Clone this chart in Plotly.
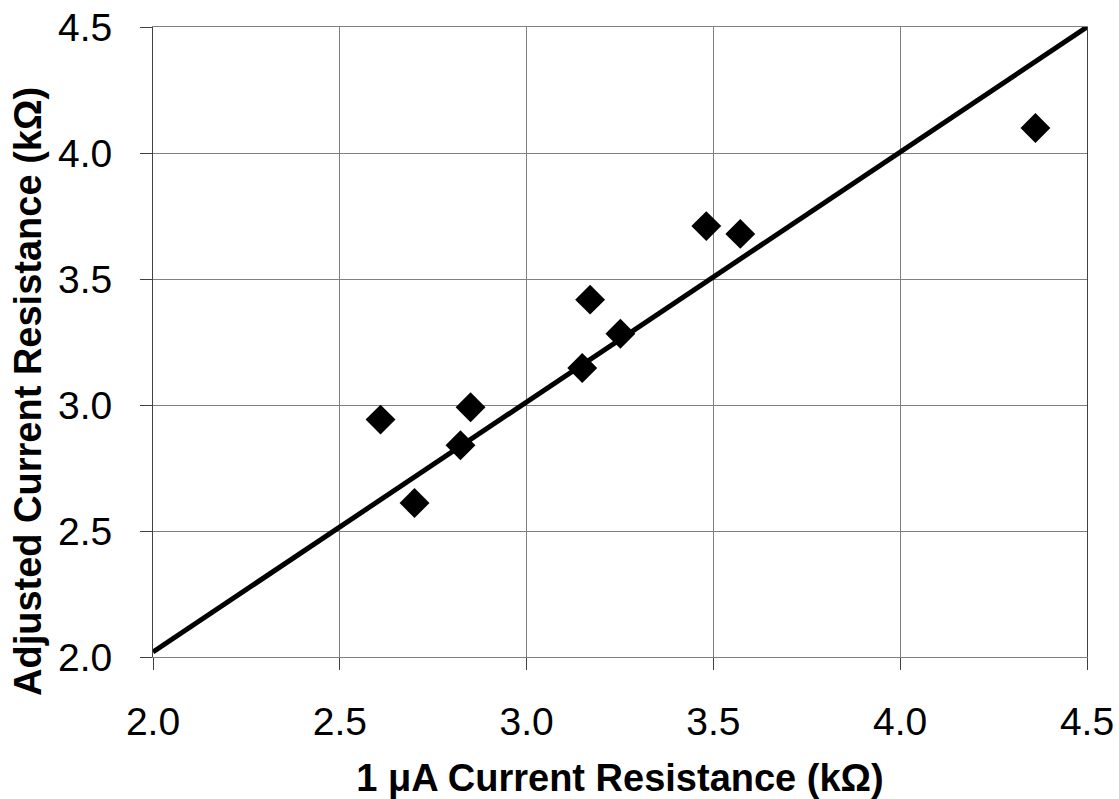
import plotly.graph_objects as go

# Data
x_vals = [2.609, 2.700, 2.823, 2.850, 3.149, 3.170, 3.251, 3.481, 3.572, 4.362]
y_vals = [2.942, 2.611, 2.840, 2.991, 3.147, 3.418, 3.283, 3.710, 3.679, 4.099]

fit_x = [2.0, 4.5]
fit_y = [2.02, 4.5]

tick_vals = [2.0, 2.5, 3.0, 3.5, 4.0, 4.5]
tick_text = ["2.0", "2.5", "3.0", "3.5", "4.0", "4.5"]

x_title = "<b>1 μA Current Resistance (kΩ)</b>"
y_title = "<b>Adjusted Current Resistance (kΩ)</b>"

fig = go.Figure()
fig.add_trace(go.Scatter(x=fit_x, y=fit_y, mode="lines",
                         line=dict(color="black", width=5), showlegend=False,
                         cliponaxis=False))
fig.add_trace(go.Scatter(x=x_vals, y=y_vals, mode="markers",
                         marker=dict(symbol="diamond", size=23, color="black",
                                     line=dict(width=0)),
                         showlegend=False))

font_family = "Liberation Sans, Arial, sans-serif"

fig.update_layout(
    width=1119, height=799,
    margin=dict(l=153, r=32, t=27, b=142),
    paper_bgcolor="white", plot_bgcolor="white",
    font=dict(family=font_family, color="black"),
    xaxis=dict(
        range=[2.0, 4.5], tickvals=tick_vals, ticktext=tick_text,
        automargin=False,
        showgrid=True, gridcolor="#808080", gridwidth=1,
        showline=True, linecolor="#808080", linewidth=1, mirror=True,
        ticks="outside", ticklen=12, tickcolor="#404040", tickwidth=1,
        tickfont=dict(size=39, family=font_family),
        ticklabelstandoff=18,
        zeroline=False,
        title=dict(text=x_title,
                   font=dict(size=38, family=font_family), standoff=22),
    ),
    yaxis=dict(
        range=[2.0, 4.5], tickvals=tick_vals, ticktext=tick_text,
        automargin=False,
        showgrid=True, gridcolor="#808080", gridwidth=1,
        showline=True, linecolor="#404040", linewidth=1, mirror=True,
        ticks="outside", ticklen=12, tickcolor="#404040", tickwidth=1,
        tickfont=dict(size=39, family=font_family),
        ticklabelstandoff=20,
        zeroline=False,
    ),
    annotations=[dict(
        text=y_title, textangle=-90,
        xref="paper", yref="paper",
        x=(28 - 153) / 934, y=1 - (392 - 27) / 630,
        xanchor="center", yanchor="middle", showarrow=False,
        font=dict(size=38, family=font_family, color="black"),
    )],
)

fig.write_html("out.html")
